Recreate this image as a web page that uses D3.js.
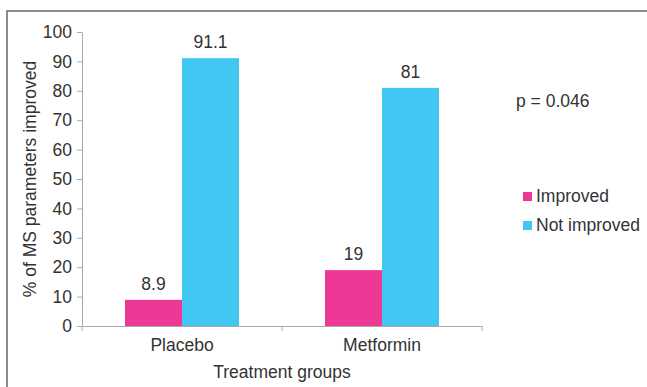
<!DOCTYPE html>
<html><head><meta charset="utf-8">
<script src="https://cdn.jsdelivr.net/npm/d3@7"></script>
<style>body{margin:0;background:#fff}svg{display:block}text{font-family:"Liberation Sans",Arial,sans-serif;fill:#333}</style>
</head><body><svg id="c" width="647" height="387"></svg>
<script>
const categories = ["Placebo", "Metformin"];
const seriesNames = ["Improved", "Not improved"];
const improved = [8.9, 19];
const notImproved = [91.1, 81];
const valueLabels = [["8.9", "91.1"], ["19", "81"]];
const yTicks = [0,10,20,30,40,50,60,70,80,90,100];
const colors = ["#EC3894", "#42C6F2"];
const FS = 17.5;

const svg = d3.select("#c");
svg.append("rect").attr("x",7).attr("y",11).attr("width",660).attr("height",400)
  .attr("fill","none").attr("stroke","#666").attr("stroke-width",1.5);

const x = d3.scaleBand().domain(categories).range([82,482]).padding(0);
const xs = d3.scaleBand().domain(seriesNames).range([43,157]);
const y = d3.scaleLinear().domain([0,100]).range([326,32]);

const yAxis = svg.append("g").attr("transform","translate(82,0)")
  .call(d3.axisLeft(y).tickValues(yTicks).tickSize(5).tickPadding(5).tickSizeOuter(0));
yAxis.select(".domain").attr("stroke","#aaa");
yAxis.selectAll(".tick line").attr("stroke","#aaa");
yAxis.selectAll(".tick text").attr("font-size",FS).attr("fill","#333").attr("font-family","Liberation Sans, Arial, sans-serif");

const xAxis = svg.append("g").attr("transform","translate(0,326)")
  .call(d3.axisBottom(x).tickSize(0).tickPadding(13));
xAxis.select(".domain").attr("stroke","#aaa");
xAxis.selectAll(".tick text").attr("font-size",FS).attr("fill","#333").attr("font-family","Liberation Sans, Arial, sans-serif");
const bounds = [x.range()[0]].concat(categories.map(c => x(c) + x.bandwidth()));
svg.append("g").selectAll("line").data(bounds).join("line")
  .attr("x1",d=>d).attr("x2",d=>d).attr("y1",326).attr("y2",331).attr("stroke","#aaa");

const data = categories.map((c,i)=>({cat:c, vals:[improved[i], notImproved[i]], labels:valueLabels[i]}));
const g = svg.append("g");
data.forEach(d=>{
  d.vals.forEach((v,j)=>{
    const bx = x(d.cat) + xs(seriesNames[j]);
    g.append("rect").attr("x",bx).attr("y",y(v)).attr("width",xs.bandwidth()).attr("height",y(0)-y(v)).attr("fill",colors[j]);
    g.append("text").attr("x",bx+xs.bandwidth()/2).attr("y",y(v)-10).attr("text-anchor","middle").attr("font-size",FS).text(d.labels[j]);
  });
});

svg.append("text").attr("x",282).attr("y",378).attr("text-anchor","middle").attr("font-size",FS).text("Treatment groups");
svg.append("text").attr("transform","translate(36,179) rotate(-90)").attr("text-anchor","middle").attr("font-size",FS).text("% of MS parameters improved");
svg.append("text").attr("x",516).attr("y",107).attr("font-size",FS).text("p = 0.046");

const leg = svg.append("g");
seriesNames.forEach((s,i)=>{
  leg.append("rect").attr("x",523).attr("y",192+i*29).attr("width",9).attr("height",9).attr("fill",colors[i]);
  leg.append("text").attr("x",536).attr("y",202+i*29).attr("font-size",FS).text(s);
});
</script></body></html>
